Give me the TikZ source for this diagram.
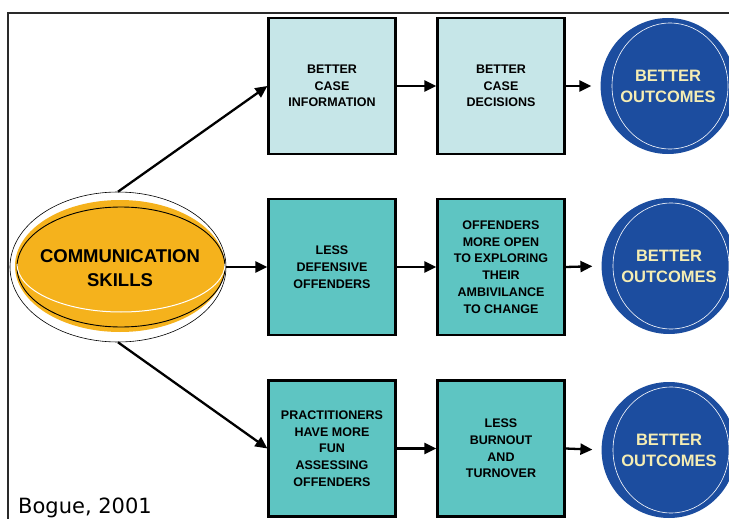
\documentclass[tikz,border=0pt]{standalone}
\usepackage{fontspec}
\setmainfont{Liberation Sans}
\newfontfamily\bogfont{DejaVu Sans}
\usetikzlibrary{shapes.geometric,arrows.meta}
\definecolor{lightbox}{HTML}{C6E6E8}
\definecolor{tealbox}{HTML}{5EC5C2}
\definecolor{outblue}{HTML}{1C4D9F}
\definecolor{cream}{HTML}{F5EDB3}
\definecolor{skill}{HTML}{F5B21C}
\definecolor{framegray}{HTML}{2A2A2A}
\tikzset{
  stepbox/.style={draw=black, line width=2.2pt, minimum width=127pt, minimum height=136pt,
    align=center, font=\fontsize{12.5}{16.7}\selectfont\bfseries, inner sep=2pt},
  lightstep/.style={stepbox, fill=lightbox},
  tealstep/.style={stepbox, fill=tealbox},
  outc/.style={ellipse, fill=outblue, minimum width=124pt, minimum height=136pt, inner sep=0pt,
    align=center, text=cream, font=\fontsize{16.5}{21}\selectfont\bfseries},
  conn/.style={line width=2.3pt, -{Triangle[length=12pt,width=11pt]}},
}
\begin{document}
\begin{tikzpicture}[x=1pt,y=-1pt]
\useasboundingbox (0,0) rectangle (729,519);
\clip (0,0) rectangle (729,519);
\fill[white] (0,0) rectangle (729,519);
% frame
\draw[framegray, line width=2.6pt] (740,13) -- (8,13) -- (8,530);
% communication skills ellipse
\node[ellipse, draw, line width=0.6pt, minimum width=216pt, minimum height=150pt, inner sep=0pt] (cs) at (118,267) {};
\fill[skill] (120,266) ellipse [x radius=105, y radius=66];
\draw[line width=0.9pt] (121,267) ellipse [x radius=104, y radius=60];
\draw[white, line width=1pt] (17,264) arc [start angle=180, end angle=0, x radius=104, y radius=48];
\node[align=center, font=\fontsize{18.5}{24}\selectfont\bfseries] (cst) at (120,268) {COMMUNICATION\\SKILLS};
% boxes
\node[lightstep] (a1) at (332,86) {BETTER\\CASE\\INFORMATION};
\node[lightstep] (a2) at (501,86) {BETTER\\CASE\\DECISIONS};
\node[tealstep] (b1) at (332,267) {LESS\\DEFENSIVE\\OFFENDERS};
\node[tealstep] (b2) at (501,267) {OFFENDERS\\MORE OPEN\\TO EXPLORING\\THEIR\\AMBIVILANCE\\TO CHANGE};
\node[tealstep] (c1) at (332,448.5) {PRACTITIONERS\\HAVE MORE\\FUN\\ASSESSING\\OFFENDERS};
\node[tealstep] (c2) at (501,448.5) {LESS\\BURNOUT\\AND\\TURNOVER};
% outcomes
\node[outc] (o1) at (668,86) {BETTER\\OUTCOMES};
\node[outc] (o2) at (669,266) {BETTER\\OUTCOMES};
\node[outc] (o3) at (669,450) {BETTER\\OUTCOMES};
\foreach \o in {o1,o2,o3}{
  \draw[white, line width=0.6pt] ([xshift=2pt]\o.center) ellipse [x radius=58, y radius=63];
}
% connectors
\draw[conn] (cs.north) -- (a1.west);
\draw[conn] (cs.east) -- (b1.west);
\draw[conn] (cs.south) -- (c1.west);
\draw[conn] (a1.east) -- (a2.west);
\draw[conn] (b1.east) -- (b2.west);
\draw[conn] (c1.east) -- (c2.west);
\draw[conn, shorten >=9pt] (a2.east) -- (o1.west);
\draw[conn, shorten >=9pt] (b2.east) -- (o2.west);
\draw[conn, shorten >=9pt] (c2.east) -- (o3.west);
% source
\node[anchor=base west, inner sep=0pt, font=\bogfont\fontsize{21}{24}\selectfont] (src) at (18,513) {Bogue, 2001};
\end{tikzpicture}
\end{document}
